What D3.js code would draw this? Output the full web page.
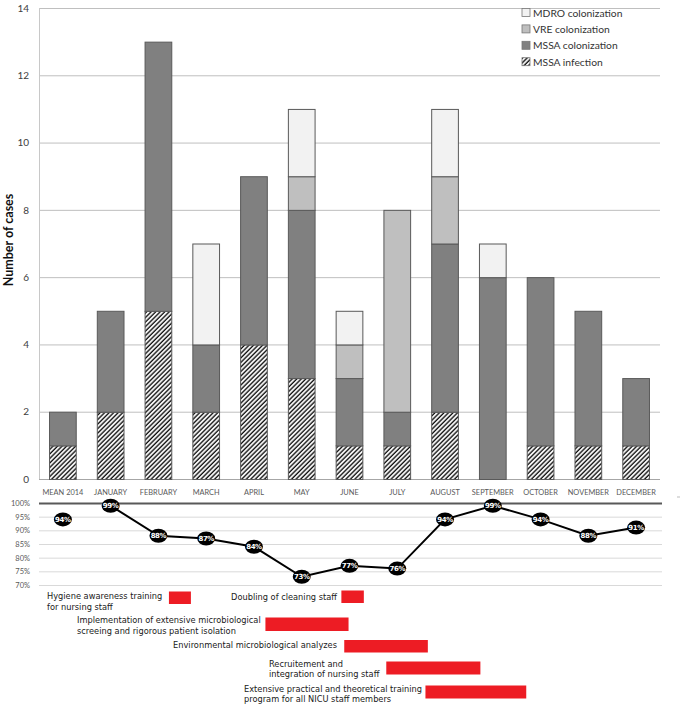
<!DOCTYPE html>
<html><head><meta charset="utf-8">
<script src="https://cdn.jsdelivr.net/npm/d3@7"></script>
<style>body{margin:0;background:#fff}svg{display:block}</style>
</head><body>
<script>
const categories = ["MEAN 2014","JANUARY","FEBRUARY","MARCH","APRIL","MAY","JUNE","JULY","AUGUST","SEPTEMBER","OCTOBER","NOVEMBER","DECEMBER"];
const mssaInfection   = [1,2,5,2,4,3,1,1,2,0,1,1,1];
const mssaColonization= [1,3,8,2,5,5,2,1,5,6,5,4,2];
const vreColonization = [0,0,0,0,0,1,1,6,2,0,0,0,0];
const mdroColonization= [0,0,0,3,0,2,1,0,2,1,0,0,0];
const hygieneCompliance = [94,99,88,87,84,73,77,76,94,99,94,88,91];
const yTicks = [0,2,4,6,8,10,12,14];
const pctTicks = [70,75,80,85,90,95,100];
const interventions = ["Hygiene awareness training\nfor nursing staff","Doubling of cleaning staff","Implementation of extensive microbiological\nscreeing and rigorous patient isolation","Environmental microbiological analyzes","Recruitement and\nintegration of nursing staff","Extensive practical and theoretical training\nprogram for all NICU staff members"];
const interventionStart = [2.22,5.83,4.24,5.89,6.77,7.59];
const interventionEnd   = [2.68,6.30,5.98,7.64,8.74,9.70];

const W=685,H=709;
const svg=d3.select("body").append("svg").attr("width",W).attr("height",H);
const defs=svg.append("defs");
const pat=defs.append("pattern").attr("id","hatch").attr("patternUnits","userSpaceOnUse")
  .attr("width",3.2).attr("height",3.2).attr("patternTransform","rotate(45)");
pat.append("rect").attr("width",3.2).attr("height",3.2).attr("fill","#fff");
pat.append("line").attr("x1",1).attr("y1",0).attr("x2",1).attr("y2",3.2).attr("stroke","#111").attr("stroke-width",1.4);

const left=39,right=660;
const x=d3.scaleBand().domain(categories).range([left,right]).paddingInner(0.42).paddingOuter(0.21);
const y=d3.scaleLinear().domain([0,14]).range([479,8]);
const font="Lato, 'Open Sans', sans-serif";

// gridlines
svg.append("g").selectAll("line").data(yTicks).join("line")
  .attr("x1",left).attr("x2",right).attr("y1",d=>y(d)+0.5).attr("y2",d=>y(d)+0.5)
  .attr("stroke",d=>d===0?"#a6a6a6":"#bfbfbf").attr("stroke-width",1);
svg.append("line").attr("x1",left+0.5).attr("x2",left+0.5).attr("y1",y(14)).attr("y2",y(0)).attr("stroke","#c8c8c8");
const yAxis=svg.append("g").attr("transform",`translate(${left},0)`)
  .call(d3.axisLeft(y).tickValues(yTicks).tickSize(0).tickPadding(10));
yAxis.select(".domain").remove();
yAxis.selectAll("text").attr("font-family",font).attr("font-size",10).attr("fill","#404040");
svg.append("text").attr("transform","translate(13,240) rotate(-90)").attr("text-anchor","middle")
  .attr("font-family",font).attr("font-weight","bold").attr("font-size",12.5).attr("fill","#111").text("Number of cases");

// stacked bars
const keys=["inf","col","vre","mdro"];
const rows=categories.map((c,i)=>({cat:c,inf:mssaInfection[i],col:mssaColonization[i],vre:vreColonization[i],mdro:mdroColonization[i]}));
const stack=d3.stack().keys(keys)(rows);
const fills={inf:"url(#hatch)",col:"#808080",vre:"#bfbfbf",mdro:"#f2f2f2"};
svg.append("g").selectAll("g").data(stack).join("g").attr("fill",s=>fills[s.key])
  .selectAll("rect").data(s=>s.filter(d=>d[1]>d[0])).join("rect")
  .attr("x",d=>x(d.data.cat)+0.5).attr("width",x.bandwidth()-1)
  .attr("y",d=>y(d[1])+0.5).attr("height",d=>y(d[0])-y(d[1]))
  .attr("stroke","#595959").attr("stroke-width",1);

// category labels
svg.append("g").selectAll("text").data(categories).join("text")
  .attr("x",d=>x(d)+x.bandwidth()/2).attr("y",495).attr("text-anchor","middle")
  .attr("font-family",font).attr("font-size",7.4).attr("fill","#595959").text(d=>d);

// legend
const legendItems=[["MDRO colonization","#f2f2f2"],["VRE colonization","#bfbfbf"],["MSSA colonization","#808080"],["MSSA infection","url(#hatch)"]];
const lg=svg.append("g").attr("transform","translate(522,8)");
legendItems.forEach((d,i)=>{
  const g=lg.append("g").attr("transform",`translate(0,${i*16.4})`);
  g.append("rect").attr("x",0).attr("y",0.5).attr("width",8).attr("height",8).attr("fill",d[1]).attr("stroke","#777").attr("stroke-width",0.8);
  g.append("text").attr("x",11).attr("y",8.5).attr("font-family",font).attr("font-size",10.3).attr("fill","#333").text(d[0]);
});

// lower chart
const yp=d3.scaleLinear().domain([70,100]).range([585,503]);
svg.append("g").selectAll("line").data(pctTicks).join("line")
  .attr("x1",left).attr("x2",662).attr("y1",d=>yp(d)+0.5).attr("y2",d=>yp(d)+0.5)
  .attr("stroke",d=>d===100?"#595959":"#d9d9d9").attr("stroke-width",d=>d===100?2:1);
svg.append("g").selectAll("text").data(pctTicks).join("text")
  .attr("x",30).attr("y",d=>yp(d)+3).attr("text-anchor","end")
  .attr("font-family",font).attr("font-size",7.5).attr("fill","#595959").text(d=>d+"%");
const cx=d=>x(d)+x.bandwidth()/2;
const lineData=categories.map((c,i)=>({c,v:hygieneCompliance[i]})).slice(1);
svg.append("path").datum(lineData).attr("fill","none").attr("stroke","#000").attr("stroke-width",2)
  .attr("d",d3.line().x(d=>cx(d.c)).y(d=>yp(d.v)));
const pts=svg.append("g").selectAll("g").data(categories.map((c,i)=>({c,v:hygieneCompliance[i]}))).join("g")
  .attr("transform",d=>`translate(${cx(d.c)},${yp(d.v)})`);
pts.append("ellipse").attr("rx",9).attr("ry",7).attr("fill","#000");
pts.append("text").attr("y",2.6).attr("text-anchor","middle").attr("font-family","'DejaVu Sans', sans-serif")
  .attr("font-weight","bold").attr("font-size",7).attr("letter-spacing",-0.4).attr("fill","#fff").text(d=>d.v+"%");

// interventions
const xm=d3.scaleLinear().domain([0,12]).range([cx(categories[0]),cx(categories[12])]);
const barY=[591.5,590.5,617.5,640,661.5,685.5];
const barH=[12.5,12.5,13.5,12.5,13,13];
const lblX=[47,337,77,337,269,244];
const lblAnchor=["start","end","start","end","start","start"];
const lblY=[599,599.5,623,648,666.5,691.5];
const ig=svg.append("g");
interventions.forEach((t,i)=>{
  ig.append("rect").attr("x",xm(interventionStart[i])).attr("width",xm(interventionEnd[i])-xm(interventionStart[i]))
    .attr("y",barY[i]).attr("height",barH[i]).attr("fill","#ed1c24");
  const lines=t.split("\n");
  const tx=ig.append("text").attr("font-family","'DejaVu Sans', Verdana, sans-serif").attr("font-size",8.25).attr("fill","#1a1a1a")
    .attr("text-anchor",lblAnchor[i]);
  lines.forEach((l,j)=>tx.append("tspan").attr("x",lblX[i]).attr("y",lblY[i]+j*10.8).text(l));
});
svg.append("line").attr("x1",677).attr("x2",680).attr("y1",497).attr("y2",497).attr("stroke","#bbb");
</script>
</body></html>
